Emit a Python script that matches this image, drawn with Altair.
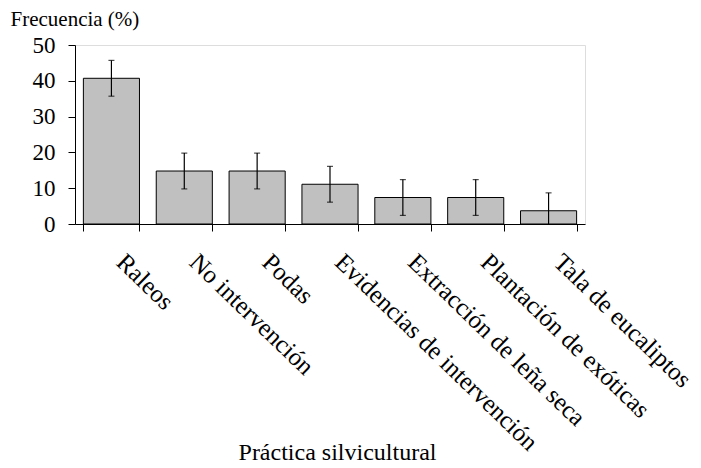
import altair as alt
import pandas as pd

cats = ["Raleos", "No intervención", "Podas", "Evidencias de intervención",
        "Extracción de leña seca", "Plantación de exóticas", "Tala de eucaliptos"]
freq = [40.7, 14.8, 14.8, 11.1, 7.4, 7.4, 3.7]
err_low = [35.7, 9.8, 9.8, 6.1, 2.4, 2.4, 0.0]
err_high = [45.7, 19.8, 19.8, 16.1, 12.4, 12.4, 8.7]
cap_low = [35.7, 9.8, 9.8, 6.1, 2.4, 2.4, None]
y_ticks = [0, 10, 20, 30, 40, 50]

df = pd.DataFrame({"cat": cats, "freq": freq, "lo": err_low, "hi": err_high, "caplo": cap_low})

FONT = "Liberation Serif"
YT = "Frecuencia (%)"

x = alt.X(
    "cat:N", sort=cats, title="Práctica silvicultural",
    scale=alt.Scale(paddingInner=0.23, paddingOuter=0.115),
    axis=alt.Axis(
        labelAngle=44, labelAlign="left", labelBaseline="top",
        labelOffset=17, labelPadding=18, labelFontSize=25, labelLimit=0,
        labelFont=FONT, labelColor="black", labelOverlap=False,
        tickBand="extent", tickSize=7, tickColor="black", domainColor="black",
        titleFont=FONT, titleFontSize=24, titleFontWeight="normal", titleColor="black",
        titleX=262, titleY=235, titleBaseline="alphabetic", titleAnchor="middle", titleAlign="center",
    ),
)

yaxis = alt.Axis(
    values=y_ticks, title=YT, titleAngle=0, titleAlign="left",
    titleX=-65, titleY=-20, titleBaseline="alphabetic",
    titleFont=FONT, titleFontSize=21, titleFontWeight="normal", titleColor="black",
    labelFont=FONT, labelFontSize=23, labelColor="black", labelPadding=13,
    labelOverlap=False, labelFlush=False,
    tickSize=7, tickColor="black", domainColor="black", grid=False,
)
yscale = alt.Scale(domain=[0, 50], nice=False)

base = alt.Chart(df)

bars = base.mark_bar(fill="#c0c0c0", stroke="black", strokeWidth=1).encode(
    x=x, y=alt.Y("freq:Q", scale=yscale, axis=yaxis, title=YT)
)
rules = base.mark_rule(color="black", strokeWidth=1.2).encode(
    x=x, y=alt.Y("lo:Q", scale=yscale, axis=yaxis, title=YT), y2="hi:Q"
)
caps_hi = base.mark_tick(orient="horizontal", size=6, thickness=1.2, color="black").encode(
    x=x, y=alt.Y("hi:Q", scale=yscale, axis=yaxis, title=YT)
)
caps_lo = base.mark_tick(orient="horizontal", size=6, thickness=1.2, color="black").encode(
    x=x, y=alt.Y("caplo:Q", scale=yscale, axis=yaxis, title=YT)
)

chart = alt.layer(bars, rules, caps_hi, caps_lo).properties(
    width=510, height=179,
    padding={"left": 67, "top": 37, "right": 108, "bottom": 244},
    autosize=alt.AutoSizeParams(type="none"),
    background="white",
).configure_view(stroke=None).configure(font=FONT)

chart.save("out.html", embed_options={"renderer": "svg", "actions": False})
